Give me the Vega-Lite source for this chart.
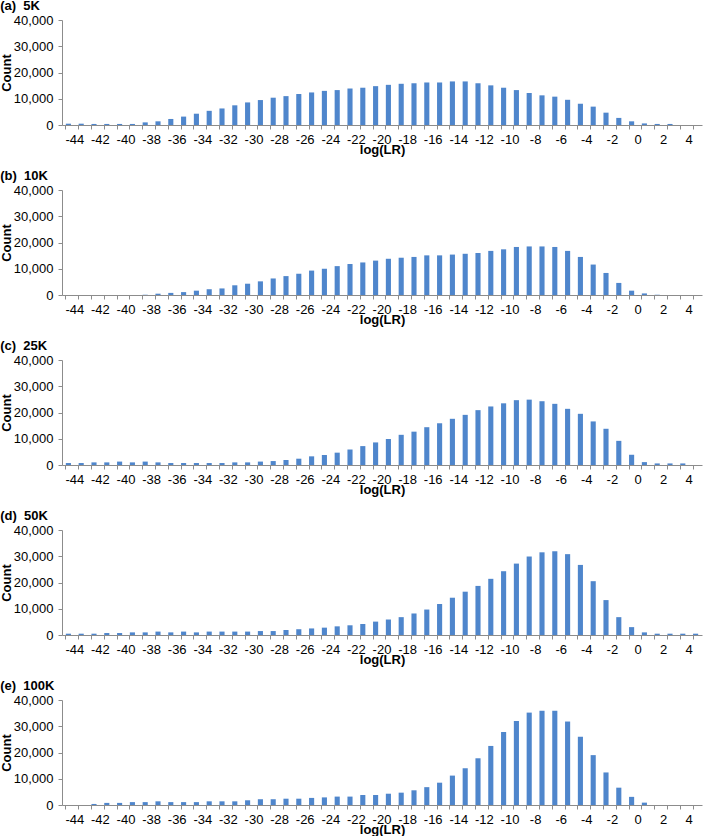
{
 "$schema": "https://vega.github.io/schema/vega-lite/v6.json",
 "padding": {"left": 0, "top": 0, "right": 2, "bottom": 0},
 "background": "white",
 "datasets": {
  "counts": [
   {"p":"a","lr":-44,"n":500},{"p":"a","lr":-43,"n":500},{"p":"a","lr":-42,"n":400},{"p":"a","lr":-41,"n":400},{"p":"a","lr":-40,"n":400},{"p":"a","lr":-39,"n":400},{"p":"a","lr":-38,"n":1000},{"p":"a","lr":-37,"n":1400},{"p":"a","lr":-36,"n":2300},{"p":"a","lr":-35,"n":3200},
   {"p":"a","lr":-34,"n":4300},{"p":"a","lr":-33,"n":5400},{"p":"a","lr":-32,"n":6300},{"p":"a","lr":-31,"n":7500},{"p":"a","lr":-30,"n":8600},{"p":"a","lr":-29,"n":9500},{"p":"a","lr":-28,"n":10400},{"p":"a","lr":-27,"n":11000},{"p":"a","lr":-26,"n":11800},{"p":"a","lr":-25,"n":12400},
   {"p":"a","lr":-24,"n":13000},{"p":"a","lr":-23,"n":13300},{"p":"a","lr":-22,"n":13900},{"p":"a","lr":-21,"n":14200},{"p":"a","lr":-20,"n":14800},{"p":"a","lr":-19,"n":15300},{"p":"a","lr":-18,"n":15700},{"p":"a","lr":-17,"n":15900},{"p":"a","lr":-16,"n":16200},{"p":"a","lr":-15,"n":16200},
   {"p":"a","lr":-14,"n":16600},{"p":"a","lr":-13,"n":16600},{"p":"a","lr":-12,"n":15900},{"p":"a","lr":-11,"n":15100},{"p":"a","lr":-10,"n":14200},{"p":"a","lr":-9,"n":13300},{"p":"a","lr":-8,"n":12200},{"p":"a","lr":-7,"n":11300},{"p":"a","lr":-6,"n":10800},{"p":"a","lr":-5,"n":9600},
   {"p":"a","lr":-4,"n":8100},{"p":"a","lr":-3,"n":7000},{"p":"a","lr":-2,"n":4700},{"p":"a","lr":-1,"n":2700},{"p":"a","lr":0,"n":1400},{"p":"a","lr":1,"n":600},{"p":"a","lr":2,"n":400},{"p":"a","lr":3,"n":400},{"p":"a","lr":4,"n":0},{"p":"a","lr":5,"n":0},

   {"p":"b","lr":-44,"n":0},{"p":"b","lr":-43,"n":0},{"p":"b","lr":-42,"n":0},{"p":"b","lr":-41,"n":0},{"p":"b","lr":-40,"n":0},{"p":"b","lr":-39,"n":0},{"p":"b","lr":-38,"n":100},{"p":"b","lr":-37,"n":500},{"p":"b","lr":-36,"n":800},{"p":"b","lr":-35,"n":1100},
   {"p":"b","lr":-34,"n":1650},{"p":"b","lr":-33,"n":2200},{"p":"b","lr":-32,"n":2500},{"p":"b","lr":-31,"n":3700},{"p":"b","lr":-30,"n":4300},{"p":"b","lr":-29,"n":5200},{"p":"b","lr":-28,"n":6300},{"p":"b","lr":-27,"n":7200},{"p":"b","lr":-26,"n":8100},{"p":"b","lr":-25,"n":9300},
   {"p":"b","lr":-24,"n":10000},{"p":"b","lr":-23,"n":11000},{"p":"b","lr":-22,"n":11800},{"p":"b","lr":-21,"n":12400},{"p":"b","lr":-20,"n":13100},{"p":"b","lr":-19,"n":13800},{"p":"b","lr":-18,"n":14200},{"p":"b","lr":-17,"n":14500},{"p":"b","lr":-16,"n":15100},{"p":"b","lr":-15,"n":15100},
   {"p":"b","lr":-14,"n":15400},{"p":"b","lr":-13,"n":15700},{"p":"b","lr":-12,"n":16000},{"p":"b","lr":-11,"n":16800},{"p":"b","lr":-10,"n":17400},{"p":"b","lr":-9,"n":18300},{"p":"b","lr":-8,"n":18500},{"p":"b","lr":-7,"n":18500},{"p":"b","lr":-6,"n":18300},{"p":"b","lr":-5,"n":16800},
   {"p":"b","lr":-4,"n":14500},{"p":"b","lr":-3,"n":11600},{"p":"b","lr":-2,"n":8400},{"p":"b","lr":-1,"n":4600},{"p":"b","lr":0,"n":1650},{"p":"b","lr":1,"n":600},{"p":"b","lr":2,"n":100},{"p":"b","lr":3,"n":0},{"p":"b","lr":4,"n":0},{"p":"b","lr":5,"n":0},

   {"p":"c","lr":-44,"n":750},{"p":"c","lr":-43,"n":750},{"p":"c","lr":-42,"n":1000},{"p":"c","lr":-41,"n":1000},{"p":"c","lr":-40,"n":1300},{"p":"c","lr":-39,"n":1000},{"p":"c","lr":-38,"n":1300},{"p":"c","lr":-37,"n":1000},{"p":"c","lr":-36,"n":750},{"p":"c","lr":-35,"n":750},
   {"p":"c","lr":-34,"n":750},{"p":"c","lr":-33,"n":750},{"p":"c","lr":-32,"n":750},{"p":"c","lr":-31,"n":1000},{"p":"c","lr":-30,"n":1000},{"p":"c","lr":-29,"n":1300},{"p":"c","lr":-28,"n":1500},{"p":"c","lr":-27,"n":1900},{"p":"c","lr":-26,"n":2400},{"p":"c","lr":-25,"n":3300},
   {"p":"c","lr":-24,"n":3800},{"p":"c","lr":-23,"n":4700},{"p":"c","lr":-22,"n":5900},{"p":"c","lr":-21,"n":7200},{"p":"c","lr":-20,"n":8600},{"p":"c","lr":-19,"n":9900},{"p":"c","lr":-18,"n":11500},{"p":"c","lr":-17,"n":12700},{"p":"c","lr":-16,"n":14400},{"p":"c","lr":-15,"n":15900},
   {"p":"c","lr":-14,"n":17600},{"p":"c","lr":-13,"n":19100},{"p":"c","lr":-12,"n":20900},{"p":"c","lr":-11,"n":22300},{"p":"c","lr":-10,"n":23500},{"p":"c","lr":-9,"n":24700},{"p":"c","lr":-8,"n":24900},{"p":"c","lr":-7,"n":24300},{"p":"c","lr":-6,"n":23300},{"p":"c","lr":-5,"n":21400},
   {"p":"c","lr":-4,"n":19500},{"p":"c","lr":-3,"n":16600},{"p":"c","lr":-2,"n":13800},{"p":"c","lr":-1,"n":9200},{"p":"c","lr":0,"n":3900},{"p":"c","lr":1,"n":1100},{"p":"c","lr":2,"n":600},{"p":"c","lr":3,"n":600},{"p":"c","lr":4,"n":600},{"p":"c","lr":5,"n":0},

   {"p":"d","lr":-44,"n":500},{"p":"d","lr":-43,"n":500},{"p":"d","lr":-42,"n":500},{"p":"d","lr":-41,"n":750},{"p":"d","lr":-40,"n":750},{"p":"d","lr":-39,"n":1000},{"p":"d","lr":-38,"n":1000},{"p":"d","lr":-37,"n":1300},{"p":"d","lr":-36,"n":1000},{"p":"d","lr":-35,"n":1300},
   {"p":"d","lr":-34,"n":1000},{"p":"d","lr":-33,"n":1300},{"p":"d","lr":-32,"n":1300},{"p":"d","lr":-31,"n":1300},{"p":"d","lr":-30,"n":1300},{"p":"d","lr":-29,"n":1500},{"p":"d","lr":-28,"n":1500},{"p":"d","lr":-27,"n":1900},{"p":"d","lr":-26,"n":2200},{"p":"d","lr":-25,"n":2500},
   {"p":"d","lr":-24,"n":2800},{"p":"d","lr":-23,"n":3300},{"p":"d","lr":-22,"n":3700},{"p":"d","lr":-21,"n":4200},{"p":"d","lr":-20,"n":5100},{"p":"d","lr":-19,"n":5900},{"p":"d","lr":-18,"n":6800},{"p":"d","lr":-17,"n":8200},{"p":"d","lr":-16,"n":9700},{"p":"d","lr":-15,"n":11800},
   {"p":"d","lr":-14,"n":14200},{"p":"d","lr":-13,"n":16500},{"p":"d","lr":-12,"n":18700},{"p":"d","lr":-11,"n":21400},{"p":"d","lr":-10,"n":24300},{"p":"d","lr":-9,"n":27200},{"p":"d","lr":-8,"n":29900},{"p":"d","lr":-7,"n":31500},{"p":"d","lr":-6,"n":31900},{"p":"d","lr":-5,"n":30800},
   {"p":"d","lr":-4,"n":26700},{"p":"d","lr":-3,"n":20500},{"p":"d","lr":-2,"n":13300},{"p":"d","lr":-1,"n":6800},{"p":"d","lr":0,"n":3000},{"p":"d","lr":1,"n":1000},{"p":"d","lr":2,"n":500},{"p":"d","lr":3,"n":500},{"p":"d","lr":4,"n":500},{"p":"d","lr":5,"n":500},

   {"p":"e","lr":-44,"n":0},{"p":"e","lr":-43,"n":0},{"p":"e","lr":-42,"n":400},{"p":"e","lr":-41,"n":800},{"p":"e","lr":-40,"n":800},{"p":"e","lr":-39,"n":1100},{"p":"e","lr":-38,"n":1100},{"p":"e","lr":-37,"n":1400},{"p":"e","lr":-36,"n":1100},{"p":"e","lr":-35,"n":1100},
   {"p":"e","lr":-34,"n":1100},{"p":"e","lr":-33,"n":1400},{"p":"e","lr":-32,"n":1400},{"p":"e","lr":-31,"n":1400},{"p":"e","lr":-30,"n":1800},{"p":"e","lr":-29,"n":2200},{"p":"e","lr":-28,"n":2200},{"p":"e","lr":-27,"n":2400},{"p":"e","lr":-26,"n":2400},{"p":"e","lr":-25,"n":2700},
   {"p":"e","lr":-24,"n":2900},{"p":"e","lr":-23,"n":3200},{"p":"e","lr":-22,"n":3200},{"p":"e","lr":-21,"n":3800},{"p":"e","lr":-20,"n":3800},{"p":"e","lr":-19,"n":4300},{"p":"e","lr":-18,"n":4700},{"p":"e","lr":-17,"n":5600},{"p":"e","lr":-16,"n":6800},{"p":"e","lr":-15,"n":8500},
   {"p":"e","lr":-14,"n":11200},{"p":"e","lr":-13,"n":14000},{"p":"e","lr":-12,"n":17800},{"p":"e","lr":-11,"n":22500},{"p":"e","lr":-10,"n":27800},{"p":"e","lr":-9,"n":32000},{"p":"e","lr":-8,"n":35200},{"p":"e","lr":-7,"n":35900},{"p":"e","lr":-6,"n":35900},{"p":"e","lr":-5,"n":31800},
   {"p":"e","lr":-4,"n":26000},{"p":"e","lr":-3,"n":19000},{"p":"e","lr":-2,"n":12400},{"p":"e","lr":-1,"n":6600},{"p":"e","lr":0,"n":3100},{"p":"e","lr":1,"n":900},{"p":"e","lr":2,"n":0},{"p":"e","lr":3,"n":0},{"p":"e","lr":4,"n":0},{"p":"e","lr":5,"n":0}
  ]
 },
 "data": {"name": "counts"},
 "config": {
  "font": "Liberation Sans",
  "view": {"stroke": null},
  "axis": {"labelFont": "Liberation Sans", "labelFontSize": 13, "labelColor": "#000", "titleFont": "Liberation Sans", "titleFontSize": 13, "titleFontWeight": "bold", "titleColor": "#000", "domainColor": "#8c8c8c", "tickColor": "#8c8c8c", "grid": false},
  "title": {"font": "Liberation Sans", "fontSize": 13, "fontWeight": "bold", "anchor": "start", "frame": "bounds", "offset": 1, "dx": 0, "color": "#000"},
  "bar": {"color": "#4F86CC"},
  "concat": {"spacing": 14}
 },
 "vconcat": [
  {"title": "(a)\u00a0\u00a05K", "transform": [{"filter": "datum.p === 'a'"}], "width": 640, "height": 105, "mark": "bar",
   "encoding": {
    "x": {"field": "lr", "type": "ordinal", "scale": {"paddingInner": 0.6, "paddingOuter": 0.3}, "axis": {"title": "log(LR)", "labelAngle": 0, "bandPosition": 0, "labelOffset": 6.4, "tickSize": 4, "labelPadding": 4, "titlePadding": -3, "labelExpr": "datum.value % 2 === 0 ? datum.label : ''"}},
    "y": {"field": "n", "type": "quantitative", "scale": {"domain": [0, 40000]}, "axis": {"title": "Count", "values": [0, 10000, 20000, 30000, 40000], "format": ",d", "tickSize": 4, "labelPadding": 5, "titlePadding": 0}}
   }},
  {"title": "(b)\u00a0\u00a010K", "transform": [{"filter": "datum.p === 'b'"}], "width": 640, "height": 105, "mark": "bar",
   "encoding": {
    "x": {"field": "lr", "type": "ordinal", "scale": {"paddingInner": 0.6, "paddingOuter": 0.3}, "axis": {"title": "log(LR)", "labelAngle": 0, "bandPosition": 0, "labelOffset": 6.4, "tickSize": 4, "labelPadding": 4, "titlePadding": -3, "labelExpr": "datum.value % 2 === 0 ? datum.label : ''"}},
    "y": {"field": "n", "type": "quantitative", "scale": {"domain": [0, 40000]}, "axis": {"title": "Count", "values": [0, 10000, 20000, 30000, 40000], "format": ",d", "tickSize": 4, "labelPadding": 5, "titlePadding": 0}}
   }},
  {"title": "(c)\u00a0\u00a025K", "transform": [{"filter": "datum.p === 'c'"}], "width": 640, "height": 105, "mark": "bar",
   "encoding": {
    "x": {"field": "lr", "type": "ordinal", "scale": {"paddingInner": 0.6, "paddingOuter": 0.3}, "axis": {"title": "log(LR)", "labelAngle": 0, "bandPosition": 0, "labelOffset": 6.4, "tickSize": 4, "labelPadding": 4, "titlePadding": -3, "labelExpr": "datum.value % 2 === 0 ? datum.label : ''"}},
    "y": {"field": "n", "type": "quantitative", "scale": {"domain": [0, 40000]}, "axis": {"title": "Count", "values": [0, 10000, 20000, 30000, 40000], "format": ",d", "tickSize": 4, "labelPadding": 5, "titlePadding": 0}}
   }},
  {"title": "(d)\u00a0\u00a050K", "transform": [{"filter": "datum.p === 'd'"}], "width": 640, "height": 105, "mark": "bar",
   "encoding": {
    "x": {"field": "lr", "type": "ordinal", "scale": {"paddingInner": 0.6, "paddingOuter": 0.3}, "axis": {"title": "log(LR)", "labelAngle": 0, "bandPosition": 0, "labelOffset": 6.4, "tickSize": 4, "labelPadding": 4, "titlePadding": -3, "labelExpr": "datum.value % 2 === 0 ? datum.label : ''"}},
    "y": {"field": "n", "type": "quantitative", "scale": {"domain": [0, 40000]}, "axis": {"title": "Count", "values": [0, 10000, 20000, 30000, 40000], "format": ",d", "tickSize": 4, "labelPadding": 5, "titlePadding": 0}}
   }},
  {"title": "(e)\u00a0\u00a0100K", "transform": [{"filter": "datum.p === 'e'"}], "width": 640, "height": 105, "mark": "bar",
   "encoding": {
    "x": {"field": "lr", "type": "ordinal", "scale": {"paddingInner": 0.6, "paddingOuter": 0.3}, "axis": {"title": "log(LR)", "labelAngle": 0, "bandPosition": 0, "labelOffset": 6.4, "tickSize": 4, "labelPadding": 4, "titlePadding": -3, "labelExpr": "datum.value % 2 === 0 ? datum.label : ''"}},
    "y": {"field": "n", "type": "quantitative", "scale": {"domain": [0, 40000]}, "axis": {"title": "Count", "values": [0, 10000, 20000, 30000, 40000], "format": ",d", "tickSize": 4, "labelPadding": 5, "titlePadding": 0}}
   }}
 ]
}
